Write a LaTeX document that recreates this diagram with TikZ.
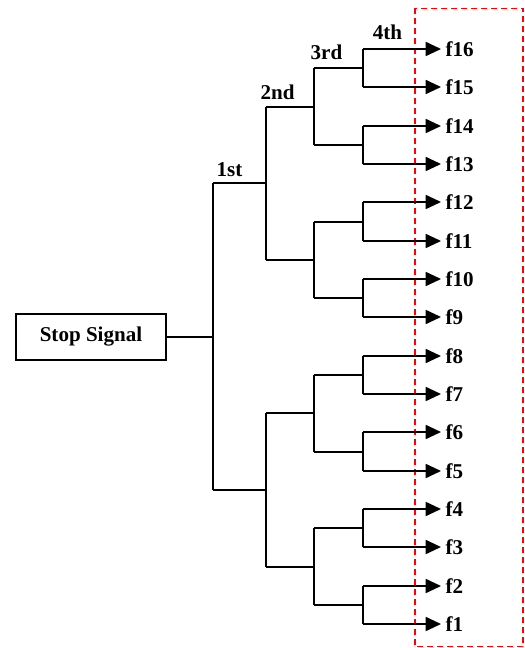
\documentclass[tikz,border=0pt]{standalone}
\usepackage{fontspec}
\setmainfont{Liberation Serif}
\usetikzlibrary{arrows.meta}

\tikzset{every picture/.style={line width=0.75pt}}
\tikzset{
  branch/.style={line width=1.35pt},
  leaf/.style={anchor=west,inner sep=3pt,font=\bfseries\fontsize{15.8}{18}\selectfont},
  stage/.style={inner sep=0pt,font=\bfseries\fontsize{15.8}{18}\selectfont},
  sigbox/.style={draw,line width=1.35pt,minimum width=112pt,minimum height=34pt,inner sep=0pt,font=\bfseries\fontsize{15.8}{18}\selectfont},
  outbox/.style={draw=red,dash pattern=on 4.5pt off 3pt,line width=0.8pt}
}

\begin{document}
\begin{tikzpicture}[x=0.75pt,y=0.75pt,yscale=-1,xscale=1]
		\useasboundingbox (0,0) rectangle (524,648);
		
		%Shape: Rectangle [id:outputs] 
		\draw [outbox] (415,8.5) rectangle (523,646.5);
		
		% Text Node
		\node [sigbox] (stop) at (91,337) {Stop Signal};
		
		%Straight Lines [id:leaves] 
		\foreach \i in {1,...,16}{
			\pgfmathsetmacro{\yy}{round(624-(\i-1)*38.33)}
			\coordinate (a\i) at (363,\yy);
			\node [leaf] (f\i) at (441,\yy) {f\i};
			\draw [branch,-{Triangle[length=11.5pt,width=10.5pt]}] (a\i) -- (f\i.west);
		}
		
		%Straight Lines [id:fourth] 
		\foreach \k in {1,...,8}{
			\pgfmathtruncatemacro{\m}{2*\k-1}
			\pgfmathtruncatemacro{\n}{2*\k}
			\pgfmathsetmacro{\yy}{round(624-(2*\k-1.5)*38.33)}
			\coordinate (b\k) at (314,\yy);
			\draw [branch] (a\m) |- (b\k) -| (a\n);
		}
		
		%Straight Lines [id:third] 
		\foreach \j in {1,...,4}{
			\pgfmathtruncatemacro{\m}{2*\j-1}
			\pgfmathtruncatemacro{\n}{2*\j}
			\pgfmathsetmacro{\yy}{round(624-(4*\j-2.5)*38.33)}
			\coordinate (c\j) at (266,\yy);
			\draw [branch] (b\m) |- (c\j) -| (b\n);
		}
		
		%Straight Lines [id:second] 
		\foreach \h in {1,2}{
			\pgfmathtruncatemacro{\m}{2*\h-1}
			\pgfmathtruncatemacro{\n}{2*\h}
			\pgfmathsetmacro{\yy}{round(624-(8*\h-4.5)*38.33)}
			\coordinate (d\h) at (213,\yy);
			\draw [branch] (c\m) |- (d\h) -| (c\n);
		}
		
		%Straight Lines [id:first] 
		\coordinate (root) at (stop.east -| d1);
		\draw [branch] (d1) -- (d2);
		\draw [branch] (stop.east) -- (root);
		
		% Text Node
		\node [stage] (st1) at (229.5,169.5) {1st};
		% Text Node
		\node [stage] (st2) at (277.5,92) {2nd};
		% Text Node
		\node [stage] (st3) at (326.5,52.5) {3rd};
		% Text Node
		\node [stage] (st4) at (387.5,32) {4th};
		
\end{tikzpicture}
\end{document}
